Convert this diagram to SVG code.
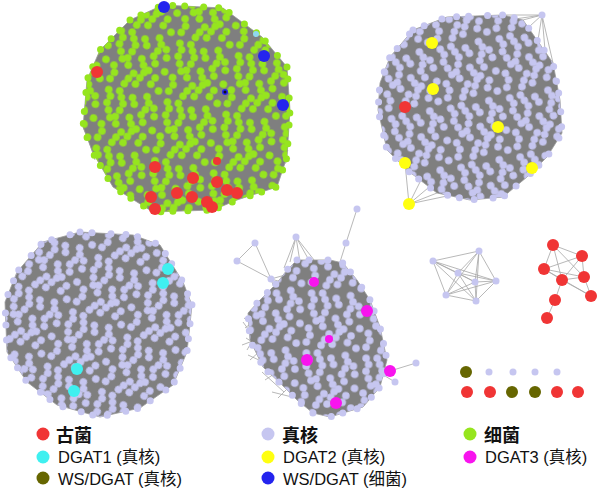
<svg xmlns="http://www.w3.org/2000/svg" xmlns:xlink="http://www.w3.org/1999/xlink" width="600" height="499" viewBox="0 0 600 499">
<style>
.hull{fill:#7f7f7f;stroke:#9a9a9a;stroke-width:0.8}
.rim{fill:none;stroke-width:7;stroke-linecap:round;stroke-dasharray:0 12 0 19 0 15}
.e{stroke:#a6a6a6;stroke-width:0.8;fill:none}
.ar{fill:#f03535}.eu{fill:#c6c6f0}.ba{fill:#96e51e}.d1{fill:#3ff0f0}.d2{fill:#ffff10}.d3{fill:#f814ee}.wse{fill:#666600}.wsb{fill:#2424ee}
.lt{font-family:"Liberation Sans","Noto Sans CJK SC",sans-serif;font-size:16.5px;fill:#111}
.lb{font-family:"Liberation Sans","Noto Sans CJK SC",sans-serif;font-size:18px;font-weight:bold;fill:#111}
</style>
<defs>
<g id="dots">
<circle cx="5" cy="5" r="3.8"/><circle cx="8" cy="11" r="3.8"/><circle cx="6" cy="18" r="3.8"/><circle cx="9" cy="25" r="3.8"/><circle cx="5" cy="40" r="3.8"/><circle cx="7" cy="47" r="3.8"/><circle cx="4" cy="54" r="3.8"/>
<circle cx="16" cy="4" r="3.8"/><circle cx="19" cy="10" r="3.8"/><circle cx="22" cy="16" r="3.8"/><circle cx="20" cy="23" r="3.8"/><circle cx="17" cy="30" r="3.8"/><circle cx="19" cy="37" r="3.8"/><circle cx="22" cy="50" r="3.8"/><circle cx="19" cy="56" r="3.8"/>
<circle cx="30" cy="8" r="3.8"/><circle cx="33" cy="14" r="3.8"/><circle cx="31" cy="28" r="3.8"/><circle cx="34" cy="34" r="3.8"/><circle cx="36" cy="41" r="3.8"/><circle cx="33" cy="47" r="3.8"/><circle cx="30" cy="54" r="3.8"/>
<circle cx="44" cy="4" r="3.8"/><circle cx="47" cy="10" r="3.8"/><circle cx="45" cy="17" r="3.8"/><circle cx="42" cy="23" r="3.8"/><circle cx="45" cy="30" r="3.8"/><circle cx="48" cy="44" r="3.8"/><circle cx="45" cy="51" r="3.8"/>
<circle cx="55" cy="22" r="3.8"/><circle cx="56" cy="36" r="3.8"/><circle cx="54" cy="56" r="3.8"/><circle cx="12" cy="32" r="3.8"/><circle cx="26" cy="44" r="3.8"/><circle cx="40" cy="38" r="3.8"/><circle cx="53" cy="14" r="3.8"/>
</g>
<pattern id="pg" width="60" height="60" patternUnits="userSpaceOnUse" patternTransform="rotate(12)"><use xlink:href="#dots" fill="#96e51e"/></pattern>
<pattern id="pl1" width="60" height="60" patternUnits="userSpaceOnUse" patternTransform="rotate(-10)"><use xlink:href="#dots" fill="#c6c6f0"/></pattern>
<pattern id="pl2" width="60" height="60" patternUnits="userSpaceOnUse" patternTransform="rotate(25) translate(13,7)"><use xlink:href="#dots" fill="#c6c6f0"/></pattern>
<pattern id="pl3" width="60" height="60" patternUnits="userSpaceOnUse" patternTransform="rotate(5) translate(31,20)"><use xlink:href="#dots" fill="#c6c6f0"/></pattern>
</defs>
<rect width="600" height="499" fill="#fff"/>

<g id="connectors">
<path class="e" d="M83,127L100,165M87,135L95,160M270,180L290,158M262,190L288,150M275,185L289,140"/>
<path class="e" d="M542,15L503,15M542,15L515,19M542,15L530,26M542,15L545,50M542,15L553,63M542,15L538,40M542,15L523,20"/>
<path class="e" d="M409,204L405,163M409,204L420,182M409,204L437,193M409,204L428,188M409,204L447,196"/>
<path class="e" d="M255,243L237,261M237,261L271,279M255,243L271,279M271,279L285,275M271,279L280,292M271,279L292,285M271,279L278,300"/>
<path class="e" d="M296,237L290,262M296,237L300,262M296,237L310,262M296,237L284,268M296,237L318,265"/>
<path class="e" d="M357,209L346,243M346,243L340,262"/>
<path class="e" d="M416,363L390,371M395,382L385,376"/>
<path class="e" d="M244,318L268,334M245,328L266,312M246,338L268,352M242,345L266,336M248,355L272,366M250,360L270,342M262,372L284,392M265,380L286,366M272,392L296,398M278,398L294,382M243,322L262,348M247,350L263,322"/>
<path class="e" d="M433,261L479,251M433,261L458,273M433,261L475,282M433,261L496,281M433,261L446,295M433,261L476,301M479,251L458,273M479,251L475,282M479,251L496,281M479,251L446,295M479,251L476,301M458,273L475,282M458,273L496,281M458,273L446,295M458,273L476,301M475,282L496,281M475,282L446,295M475,282L476,301M496,281L446,295M496,281L476,301M446,295L476,301"/>
<path class="e" d="M553,245L582,256M553,245L544,269M553,245L562,280M553,245L584,277M582,256L544,269M582,256L584,277M582,256L562,280M544,269L562,280M544,269L584,277M562,280L591,296M584,277L591,296M562,280L584,277M562,280L555,300M555,300L547,318M544,269L591,296"/>
</g>

<g id="cluster-bacteria">
<polygon class="hull" points="130,20 163,5 223,8 262,37 287,67 290,110 287,157 277,187 237,200 213,210 153,212 113,187 93,153 83,127 87,80 100,50"/>
<polygon fill="url(#pg)" points="130,20 163,5 223,8 262,37 287,67 290,110 287,157 277,187 237,200 213,210 153,212 113,187 93,153 83,127 87,80 100,50"/>
<polygon class="rim" stroke="#96e51e" points="130,20 163,5 223,8 262,37 287,67 290,110 287,157 277,187 237,200 213,210 153,212 113,187 93,153 83,127 87,80 100,50"/>
<g class="ar">
<circle cx="97" cy="72" r="6"/><circle cx="155" cy="167" r="6"/><circle cx="217" cy="161" r="4"/><circle cx="193" cy="178" r="6"/><circle cx="217" cy="182" r="6"/><circle cx="227" cy="190" r="6"/><circle cx="237" cy="193" r="6"/><circle cx="177" cy="193" r="6"/><circle cx="151" cy="197" r="6"/><circle cx="155" cy="209" r="6"/><circle cx="192" cy="197" r="6"/><circle cx="207" cy="202" r="6"/><circle cx="212" cy="207" r="6"/>
</g>
<g class="wsb">
<circle cx="164" cy="7" r="6"/><circle cx="264" cy="56" r="6"/><circle cx="283" cy="105" r="6"/><circle cx="225" cy="92" r="3"/>
</g>
<circle cx="225" cy="92" r="1.5" fill="#111"/>
<circle cx="256" cy="34" r="3" fill="#8fd8f0"/>
</g>

<g id="cluster-euk-1">
<polygon class="hull" points="413,30 447,17 503,15 523,20 553,63 560,100 562,133 547,157 527,177 503,197 470,200 437,193 407,170 387,150 378,110 380,83 390,57"/>
<polygon fill="url(#pl1)" points="413,30 447,17 503,15 523,20 553,63 560,100 562,133 547,157 527,177 503,197 470,200 437,193 407,170 387,150 378,110 380,83 390,57"/>
<polygon class="rim" stroke="#c6c6f0" points="413,30 447,17 503,15 523,20 553,63 560,100 562,133 547,157 527,177 503,197 470,200 437,193 407,170 387,150 378,110 380,83 390,57"/>
<circle class="eu" cx="542" cy="15" r="3.5"/>
<circle class="ar" cx="405" cy="107" r="6"/>
<g class="d2">
<circle cx="432" cy="43" r="6"/><circle cx="433" cy="89" r="6"/><circle cx="498" cy="127" r="6"/><circle cx="405" cy="163" r="6"/><circle cx="532" cy="168" r="6"/><circle cx="409" cy="204" r="6"/>
</g>
</g>

<g id="cluster-euk-2">
<polygon class="hull" points="80,232 133,235 160,245 183,282 192,305 187,352 173,385 140,408 100,417 57,405 27,382 7,352 5,302 17,272 43,242"/>
<polygon fill="url(#pl2)" points="80,232 133,235 160,245 183,282 192,305 187,352 173,385 140,408 100,417 57,405 27,382 7,352 5,302 17,272 43,242"/>
<polygon class="rim" stroke="#c6c6f0" points="80,232 133,235 160,245 183,282 192,305 187,352 173,385 140,408 100,417 57,405 27,382 7,352 5,302 17,272 43,242"/>
<g class="d1">
<circle cx="168" cy="269" r="6"/><circle cx="163" cy="283" r="6"/><circle cx="77" cy="369" r="6"/><circle cx="74" cy="391" r="6"/>
</g>
</g>

<g id="cluster-euk-3">
<polygon class="hull" points="297,260 330,260 343,263 357,280 370,300 380,327 387,360 380,387 363,407 330,417 313,413 297,400 280,383 263,367 250,340 248,313 260,300 277,283 287,270"/>
<polygon fill="url(#pl3)" points="297,260 330,260 343,263 357,280 370,300 380,327 387,360 380,387 363,407 330,417 313,413 297,400 280,383 263,367 250,340 248,313 260,300 277,283 287,270"/>
<polygon class="rim" stroke="#c6c6f0" points="297,260 330,260 343,263 357,280 370,300 380,327 387,360 380,387 363,407 330,417 313,413 297,400 280,383 263,367 250,340 248,313 260,300 277,283 287,270"/>
<g class="eu">
<circle cx="357" cy="209" r="3.5"/><circle cx="346" cy="243" r="3.5"/><circle cx="255" cy="243" r="3.5"/><circle cx="237" cy="261" r="3.5"/><circle cx="271" cy="279" r="3.5"/><circle cx="296" cy="237" r="3.5"/><circle cx="416" cy="363" r="3.5"/><circle cx="395" cy="382" r="3.5"/>
</g>
<g class="d3">
<circle cx="314" cy="282" r="5"/><circle cx="367" cy="311" r="6"/><circle cx="329" cy="339" r="4"/><circle cx="307" cy="360" r="6"/><circle cx="390" cy="371" r="6"/><circle cx="336" cy="403" r="6"/>
</g>
</g>

<g id="clique-euk">
<g class="eu">
<circle cx="433" cy="261" r="3.5"/><circle cx="479" cy="251" r="3.5"/><circle cx="458" cy="273" r="3.5"/><circle cx="475" cy="282" r="3.5"/><circle cx="496" cy="281" r="3.5"/><circle cx="446" cy="295" r="3.5"/><circle cx="476" cy="301" r="3.5"/>
</g>
</g>

<g id="clique-archaea">
<g class="ar">
<circle cx="553" cy="245" r="6"/><circle cx="582" cy="256" r="6"/><circle cx="544" cy="269" r="6"/><circle cx="584" cy="277" r="6"/><circle cx="562" cy="280" r="6"/><circle cx="591" cy="296" r="6"/><circle cx="555" cy="300" r="6"/><circle cx="547" cy="318" r="6"/>
</g>
</g>

<g id="singletons">
<circle class="wse" cx="466" cy="372" r="6"/>
<g class="eu"><circle cx="489" cy="372" r="3.5"/><circle cx="513" cy="372" r="3.5"/><circle cx="535" cy="372" r="3.5"/><circle cx="557" cy="372" r="3.5"/></g>
<circle class="ar" cx="467" cy="392" r="6"/><circle class="ar" cx="490" cy="392" r="6"/><circle class="wse" cx="512" cy="392" r="6"/><circle class="wse" cx="535" cy="392" r="6"/><circle class="ar" cx="557" cy="392" r="6"/><circle class="ar" cx="578" cy="392" r="6"/>
</g>

<g id="legend">
<circle class="ar" cx="43" cy="434" r="6.5"/><text class="lb" x="56" y="442">古菌</text>
<circle class="eu" cx="268" cy="434" r="6.5"/><text class="lb" x="282" y="442">真核</text>
<circle class="ba" cx="470" cy="434" r="6.5"/><text class="lb" x="484" y="442">细菌</text>
<circle class="d1" cx="43" cy="457" r="6.5"/><text class="lt" x="58" y="463">DGAT1 (真核)</text>
<circle class="d2" cx="268" cy="457" r="6.5"/><text class="lt" x="283" y="463">DGAT2 (真核)</text>
<circle class="d3" cx="470" cy="457" r="6.5"/><text class="lt" x="485" y="463">DGAT3 (真核)</text>
<circle class="wse" cx="43" cy="478" r="6.5"/><text class="lt" x="58" y="485">WS/DGAT (真核)</text>
<circle class="wsb" cx="268" cy="478" r="6.5"/><text class="lt" x="283" y="485">WS/DGAT (细菌)</text>
</g>
</svg>
